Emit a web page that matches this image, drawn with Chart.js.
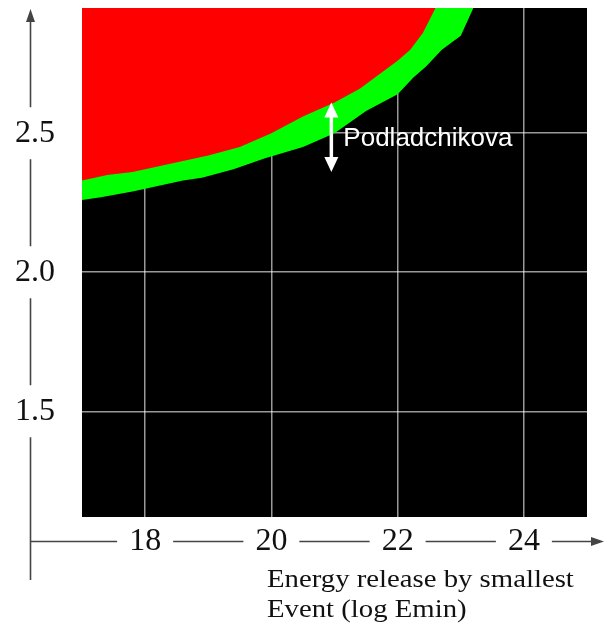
<!DOCTYPE html>
<html>
<head>
<meta charset="utf-8">
<script src="https://cdn.jsdelivr.net/npm/chart.js@4.4.1/dist/chart.umd.min.js"></script>
<style>
  html, body { margin: 0; padding: 0; background: #fff; }
  #wrap { width: 606px; height: 628px; }
</style>
</head>
<body>
<div id="wrap"><canvas id="chart" width="606" height="628"></canvas></div>
<script>
const xTicks = [18, 20, 22, 24];
const yTicks = [1.5, 2.0, 2.5];

// edge between the red region and the green band
const redEdgeX = [17.0, 17.4, 17.8, 18.2, 18.6, 19.0, 19.5, 20.0, 20.5, 21.0, 21.4, 21.7, 22.0, 22.2, 22.4, 22.6];
const redEdgeY = [2.33, 2.35, 2.36, 2.38, 2.40, 2.42, 2.45, 2.50, 2.56, 2.61, 2.66, 2.71, 2.76, 2.80, 2.86, 2.95];

// edge between the green band and the black region
const greenEdgeX = [17.0, 17.3, 17.8, 18.2, 18.6, 18.9, 19.4, 19.9, 20.5, 21.0, 21.5, 22.0, 22.25, 22.45, 22.7, 23.0, 23.2];
const greenEdgeY = [2.26, 2.27, 2.29, 2.31, 2.33, 2.34, 2.37, 2.41, 2.45, 2.50, 2.58, 2.64, 2.70, 2.74, 2.80, 2.85, 2.95];

const markerX = 20.95;
const markerLow = 2.36;
const markerHigh = 2.61;
const markerLabel = 'Podladchikova';
const titleLines = ['Energy release by smallest', 'Event (log Emin)'];

const serif = '"Liberation Serif", "Times New Roman", serif';
const toPoints = (xs, ys) => xs.map((x, i) => ({ x, y: ys[i] }));

const frame = {
  id: 'frame',
  beforeDraw(chart) {
    const { ctx, chartArea: a } = chart;
    ctx.save();
    ctx.fillStyle = '#000';
    ctx.fillRect(a.left, a.top, a.right - a.left, a.bottom - a.top);
    ctx.restore();
  },
  afterDraw(chart) {
    const { ctx, scales: { x, y } } = chart;
    const axisX = 30.5;
    const axisY = 541.5;
    ctx.save();
    ctx.strokeStyle = '#444';
    ctx.fillStyle = '#444';
    ctx.lineWidth = 1.6;

    // vertical axis, broken around its labels
    const yPix = yTicks.map(v => y.getPixelForValue(v)).sort((a, b) => a - b);
    let from = 20;
    ctx.beginPath();
    yPix.forEach(p => {
      ctx.moveTo(axisX, from);
      ctx.lineTo(axisX, p - 26);
      from = p + 26;
    });
    ctx.moveTo(axisX, from);
    ctx.lineTo(axisX, 580);

    // horizontal axis, broken around its labels
    ctx.font = '32px ' + serif;
    let left = axisX;
    xTicks.forEach(v => {
      const p = x.getPixelForValue(v);
      const half = ctx.measureText(String(v)).width / 2;
      ctx.moveTo(left, axisY);
      ctx.lineTo(p - half - 12, axisY);
      left = p + half + 12;
    });
    ctx.moveTo(left, axisY);
    ctx.lineTo(592, axisY);
    ctx.stroke();

    // arrow heads
    ctx.beginPath();
    ctx.moveTo(axisX, 9);
    ctx.lineTo(axisX - 4.5, 22);
    ctx.lineTo(axisX + 4.5, 22);
    ctx.closePath();
    ctx.moveTo(604, axisY);
    ctx.lineTo(591, axisY - 4.5);
    ctx.lineTo(591, axisY + 4.5);
    ctx.closePath();
    ctx.fill();

    // axis title, set a little wide
    ctx.save();
    ctx.fillStyle = '#111';
    ctx.font = '25px ' + serif;
    ctx.textAlign = 'left';
    ctx.textBaseline = 'alphabetic';
    ctx.translate(267, 0);
    ctx.scale(1.15, 1);
    titleLines.forEach((t, i) => ctx.fillText(t, 0, 587 + i * 30));
    ctx.restore();

    // double arrow with its label
    const mx = x.getPixelForValue(markerX);
    const top = y.getPixelForValue(markerHigh);
    const bottom = y.getPixelForValue(markerLow);
    ctx.strokeStyle = '#fff';
    ctx.fillStyle = '#fff';
    ctx.lineWidth = 3.5;
    ctx.beginPath();
    ctx.moveTo(mx, top + 12);
    ctx.lineTo(mx, bottom - 12);
    ctx.stroke();
    ctx.beginPath();
    ctx.moveTo(mx, top);
    ctx.lineTo(mx - 7, top + 15);
    ctx.lineTo(mx + 7, top + 15);
    ctx.closePath();
    ctx.moveTo(mx, bottom);
    ctx.lineTo(mx - 7, bottom - 15);
    ctx.lineTo(mx + 7, bottom - 15);
    ctx.closePath();
    ctx.fill();
    ctx.font = '26px "Liberation Sans", Arial, sans-serif';
    ctx.textBaseline = 'middle';
    ctx.fillText(markerLabel, mx + 12, (top + bottom) / 2 + 1);
    ctx.restore();
  }
};

new Chart(document.getElementById('chart'), {
  type: 'line',
  data: {
    datasets: [
      {
        label: 'red',
        data: toPoints(redEdgeX, redEdgeY),
        fill: 'end',
        backgroundColor: '#ff0000',
        borderWidth: 0,
        pointRadius: 0,
        tension: 0
      },
      {
        label: 'green',
        data: toPoints(greenEdgeX, greenEdgeY),
        fill: 'end',
        backgroundColor: '#00ff00',
        borderWidth: 0,
        pointRadius: 0,
        tension: 0
      }
    ]
  },
  options: {
    responsive: false,
    animation: false,
    devicePixelRatio: 1,
    layout: { padding: { top: 8, right: 19, left: 0, bottom: 0 } },
    plugins: { legend: { display: false }, tooltip: { enabled: false } },
    scales: {
      x: {
        type: 'linear',
        min: 17,
        max: 25,
        z: 1,
        afterBuildTicks: s => { s.ticks = xTicks.map(v => ({ value: v })); },
        afterFit: s => { s.height = 111; s.paddingLeft = 0; s.paddingRight = 0; },
        grid: { color: 'rgba(255,255,255,0.6)', lineWidth: 1.5, drawTicks: false },
        border: { display: false },
        ticks: {
          padding: 5,
          color: '#111',
          font: { family: serif, size: 32 },
          maxRotation: 0,
          callback: v => String(v)
        }
      },
      y: {
        type: 'linear',
        min: 1.12,
        max: 2.95,
        z: 1,
        afterBuildTicks: s => { s.ticks = yTicks.map(v => ({ value: v })); },
        afterFit: s => { s.width = 82; s.paddingTop = 0; s.paddingBottom = 0; },
        grid: { color: 'rgba(255,255,255,0.6)', lineWidth: 1.5, drawTicks: false },
        border: { display: false },
        ticks: {
          padding: 27,
          color: '#111',
          crossAlign: 'center',
          font: { family: serif, size: 32 },
          callback: v => v.toFixed(1)
        }
      }
    }
  },
  plugins: [frame]
});
</script>
</body>
</html>
